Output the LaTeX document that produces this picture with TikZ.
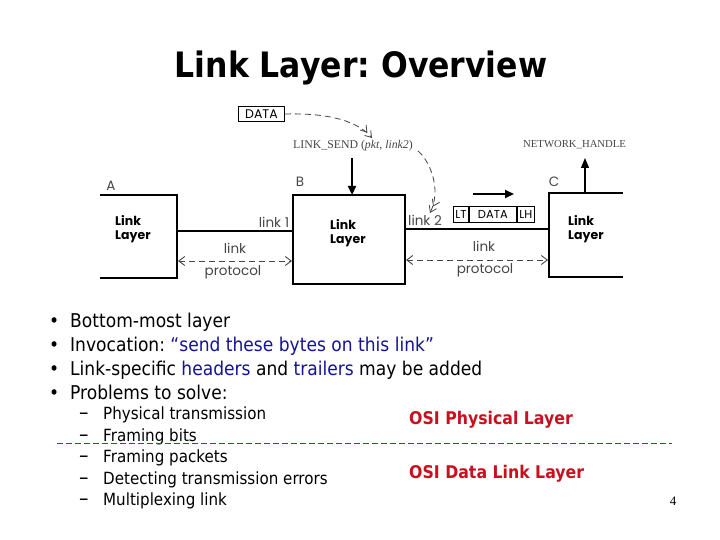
\documentclass[tikz,border=0pt]{standalone}
\usepackage{fontspec}
\setmainfont[FakeStretch=0.9]{DejaVu Sans}
\newfontfamily\figfont{Poppins}
\newfontfamily\serfont{Liberation Serif}
\usetikzlibrary{arrows.meta}
\definecolor{navy}{RGB}{20,20,150}
\definecolor{osired}{RGB}{200,16,30}
\definecolor{figgray}{RGB}{70,70,70}
\frenchspacing
\begin{document}
\begin{tikzpicture}[x=1pt,y=-1pt,
  boxline/.style={line width=1.8pt},
  linkline/.style={line width=1.2pt},
  proto/.style={dash pattern=on 6pt off 4pt,line width=0.9pt,figgray,{Straight Barb[length=6pt,width=9pt]}-{Straight Barb[length=6pt,width=9pt]}},
  ftext/.style={font=\figfont\fontsize{13.5}{15}\selectfont,text=figgray,inner sep=0pt},
  pkt/.style={draw,line width=0.9pt,font=\figfont\fontsize{11.5}{13}\selectfont,text=black,minimum height=16pt,inner sep=0pt,anchor=west},
  fbold/.style={font=\figfont\bfseries\fontsize{12.5}{14}\selectfont,align=left,inner sep=0pt,anchor=west},
  stext/.style={font=\serfont\fontsize{11}{13}\selectfont,inner sep=0pt},
  bul/.style={font=\fontsize{19}{22}\selectfont,anchor=base west,inner sep=0pt},
  sub/.style={font=\fontsize{16.8}{20}\selectfont,anchor=base west,inner sep=0pt},
  osi/.style={font=\bfseries\fontsize{17.5}{20}\selectfont,text=osired,anchor=base west,inner sep=0pt},
  curvearr/.style={dash pattern=on 6pt off 4pt,line width=0.8pt,figgray,-{Straight Barb[length=6pt,width=8pt]Straight Barb[length=6pt,width=8pt]}},
  thickarr/.style={line width=2.4pt,-{Triangle[length=9pt,width=8pt]}}
]
\useasboundingbox (0,0) rectangle (720,540);
\fill[white] (0,0) rectangle (720,540);

% title
\node[font=\bfseries\fontsize{35}{40}\selectfont] (title) at (361,68) {Link Layer: Overview};

% ---- figure ----
\coordinate (Atl) at (100,195); \coordinate (Atr) at (177,195);
\coordinate (Abr) at (177,278); \coordinate (Abl) at (100,278);
\draw[boxline] (Atl) -- (Atr) -- (Abr) -- (Abl);
\coordinate (Btl) at (293,195); \coordinate (Bbr) at (405,284);
\draw[boxline] (Btl) rectangle (Bbr);
\coordinate (Ctr) at (623,193); \coordinate (Ctl) at (549,193);
\coordinate (Cbl) at (549,277); \coordinate (Cbr) at (623,277);
\draw[boxline] (Ctr) -- (Ctl) -- (Cbl) -- (Cbr);

\coordinate (l1a) at (177,231); \coordinate (l1b) at (293,231);
\draw[linkline] (l1a) -- (l1b);
\coordinate (l2a) at (405,229); \coordinate (l2b) at (549,229);
\draw[linkline] (l2a) -- (l2b);

\coordinate (p1a) at (178,261); \coordinate (p1b) at (292,261);
\draw[proto] (p1a) -- (p1b);
\coordinate (p2a) at (406,260); \coordinate (p2b) at (548,260);
\draw[proto] (p2a) -- (p2b);

\node[ftext] (lA) at (111,186) {A};
\node[ftext] (lB) at (300,182) {B};
\node[ftext] (lC) at (554,182) {C};
\node[fbold] (llA) at (115,229) {Link\\Layer};
\node[fbold] (llB) at (330,233) {Link\\Layer};
\node[fbold] (llC) at (568,229) {Link\\Layer};
\node[ftext] (link1) at (274,222) {link 1};
\node[ftext] (link2) at (425,220) {link 2};
\node[ftext] (pl1) at (235,248) {link};
\node[ftext] (pp1) at (233,272) {protocol};
\node[ftext] (pl2) at (484,246) {link};
\node[ftext] (pp2) at (485,270) {protocol};

% DATA box
\node[pkt,font=\figfont\fontsize{12.5}{14}\selectfont,minimum width=46pt,minimum height=15pt] (data) at (238,114) {DATA};
% LINK_SEND
\node[stext,font=\serfont\fontsize{11.8}{13}\selectfont,text=figgray,anchor=west] (send) at (293,146) {LINK\_SEND (\textit{pkt, link2})};
\coordinate (sendtip) at (372,138);
\draw[curvearr] (data.east) .. controls (320,113) and (355,118) .. (sendtip);
\coordinate (sendend) at (418,151);
\coordinate (l2tip) at (430,213);
\draw[curvearr] (sendend) .. controls (429,160) and (442,188) .. (l2tip);
\coordinate (dnA) at (352,158);
\draw[thickarr] (dnA) -- (Btl -| dnA);

% LT DATA LH
\node[pkt,minimum width=15pt] (lt) at (453,214.5) {LT};
\node[pkt,minimum width=47pt] (dat2) at (lt.east) {DATA};
\node[pkt,minimum width=17pt] (lh) at (dat2.east) {LH};
\coordinate (ra) at (473,194); \coordinate (rb) at (514,194);
\draw[thickarr,line width=2pt] (ra) -- (rb);

% NETWORK_HANDLE
\node[stext,font=\serfont\fontsize{10.7}{13}\selectfont,text=figgray,anchor=west] (nh) at (523,145) {NETWORK\_HANDLE};
\coordinate (upA) at (585,193);
\draw[line width=1.2pt,-{Triangle[length=10pt,width=8pt]}] (upA) -- (585,158);

% ---- bullets ----
\foreach \yy in {327,351,375,399} \node[bul] at (49,\yy) {•};
\node[bul] (b1) at (70,327) {Bottom-most layer};
\node[bul] (b2) at (70,351) {Invocation: \textcolor{navy}{“send these bytes on this link”}};
\node[bul] (b3) at (70,375) {Link-specific \textcolor{navy}{headers} and \textcolor{navy}{trailers} may be added};
\node[bul] (b4) at (70,399) {Problems to solve:};
\foreach \yy in {419,441,462,484,505} \node[sub,font=\fontsize{21}{22}\selectfont] at (79,\yy) {–};
\node[sub] (s1) at (103,419) {Physical transmission};
\node[sub] (s2) at (103,441) {Framing bits};
\node[sub] (s3) at (103,462) {Framing packets};
\node[sub] (s4) at (103,484) {Detecting transmission errors};
\node[sub] (s5) at (103,505) {Multiplexing link};

\node[osi] (o1) at (409,424) {OSI Physical Layer};
\node[osi] (o2) at (409,478) {OSI Data Link Layer};
\coordinate (dl1) at (57,443); \coordinate (dl2) at (672,443);
\draw[osired,line width=0.9pt,dash pattern=on 6pt off 3pt] (dl1) -- (dl2);

\node[font=\serfont\fontsize{13}{15}\selectfont,anchor=base,inner sep=0pt] (pg) at (673,505) {4};
\end{tikzpicture}
\end{document}
